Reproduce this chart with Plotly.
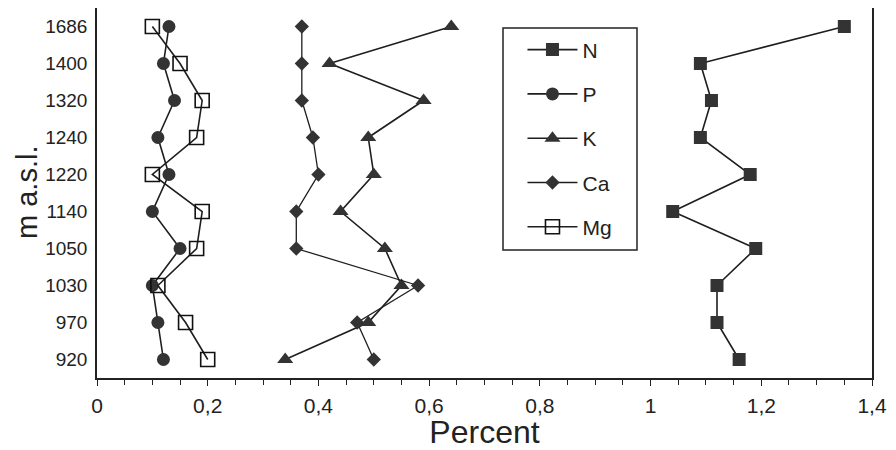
import plotly.graph_objects as go

# Elevations (categories), listed top to bottom as in the chart
elevations = ["1686", "1400", "1320", "1240", "1220", "1140", "1050", "1030", "970", "920"]

N_vals = [1.35, 1.09, 1.11, 1.09, 1.18, 1.04, 1.19, 1.12, 1.12, 1.16]
P_vals = [0.13, 0.12, 0.14, 0.11, 0.13, 0.10, 0.15, 0.10, 0.11, 0.12]
K_vals = [0.64, 0.42, 0.59, 0.49, 0.50, 0.44, 0.52, 0.55, 0.49, 0.34]
Ca_vals = [0.37, 0.37, 0.37, 0.39, 0.40, 0.36, 0.36, 0.58, 0.47, 0.50]
Mg_vals = [0.10, 0.15, 0.19, 0.18, 0.10, 0.19, 0.18, 0.11, 0.16, 0.20]

x_tickvals = [0, 0.2, 0.4, 0.6, 0.8, 1.0, 1.2, 1.4]
x_ticktext = ["0", "0,2", "0,4", "0,6", "0,8", "1", "1,2", "1,4"]

FONT = "Liberation Sans, Arial, Helvetica, sans-serif"
LINE_C = "#1e1e1e"
FILL_C = "#333333"

series = [
    ("N", N_vals, "square", 13, FILL_C, 1.6),
    ("P", P_vals, "circle", 13, FILL_C, 1.6),
    ("K", K_vals, "triangle-up", 14, FILL_C, 1.6),
    ("Ca", Ca_vals, "diamond", 11, FILL_C, 1.3),
    ("Mg", Mg_vals, "square-open", 14, "#111111", 1.6),
]

fig = go.Figure()
for name, vals, sym, size, col, lw in series:
    fig.add_trace(go.Scatter(
        x=vals, y=elevations, name=name, legendgroup=name,
        mode="lines+markers",
        line=dict(color=LINE_C, width=lw),
        marker=dict(symbol=sym, size=size, color=col,
                    line=dict(color="#111111", width=1.6 if sym == "square-open" else 0)),
    ))

# page body has an 8px margin, so the figure is offset by (8, 8)
fig.update_layout(
    width=888, height=442,
    margin=dict(l=89, r=24, t=0, b=72, autoexpand=False),
    paper_bgcolor="white", plot_bgcolor="white",
    font=dict(family=FONT, color="#222222", size=19),
    showlegend=True,
    legend=dict(
        x=0.549, y=0.942, xanchor="left", yanchor="top",
        borderwidth=0, bgcolor="rgba(0,0,0,0)",
        font=dict(size=21, family=FONT, color="#222222"),
        tracegroupgap=14, itemwidth=50,
    ),
    xaxis=dict(
        range=[0, 1.4], tickvals=x_tickvals, ticktext=x_ticktext,
        ticks="outside", ticklen=6, tickwidth=1.3, tickcolor="#222222",
        minor=dict(dtick=0.05, ticks="outside", ticklen=5, tickwidth=1.3, tickcolor="#222222"),
        showline=True, linecolor="#222222", linewidth=1.5, mirror=True,
        showgrid=False, zeroline=False, automargin=False,
        tickfont=dict(size=21), ticklabelstandoff=2,
        title=dict(text="Percent", font=dict(size=32), standoff=18),
    ),
    yaxis=dict(
        type="category", categoryorder="array", categoryarray=elevations[::-1],
        range=[-0.5, 9.5],
        showline=True, linecolor="#222222", linewidth=1.5, mirror=True,
        showgrid=False, zeroline=False, ticks="", automargin=False,
        tickfont=dict(size=19), ticklabelstandoff=4,
    ),
    annotations=[dict(
        text="m a.s.l.", xref="paper", yref="paper", x=0, y=0.5,
        xanchor="center", yanchor="middle", xshift=-70, textangle=-90,
        showarrow=False, font=dict(size=29, family=FONT, color="#222222"),
    )],
    shapes=[dict(
        type="rect", xref="paper", yref="paper",
        x0=(503 - 97) / 775, x1=(637 - 97) / 775,
        y0=(378 - 250) / 370, y1=(378 - 28) / 370,
        line=dict(color="#222222", width=1.5), fillcolor="rgba(0,0,0,0)",
        layer="above",
    )],
)

fig.write_html("out.html")
